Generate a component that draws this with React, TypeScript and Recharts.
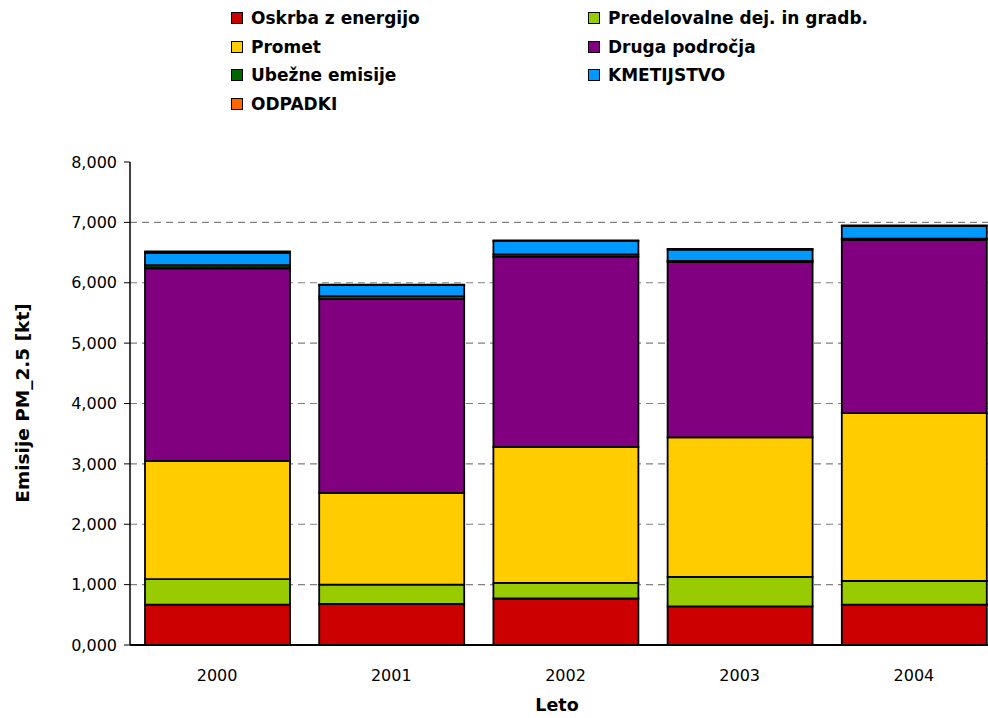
import { BarChart, Bar, XAxis, YAxis, CartesianGrid } from "recharts";

const years = ["2000", "2001", "2002", "2003", "2004"];
const oskrba = [0.67, 0.68, 0.77, 0.64, 0.67];
const predelovalne = [0.42, 0.32, 0.26, 0.49, 0.39];
const promet = [1.96, 1.52, 2.25, 2.31, 2.78];
const druga = [3.19, 3.21, 3.15, 2.9, 2.87];
const ubezne = [0.05, 0.05, 0.04, 0.02, 0.02];
const kmetijstvo = [0.2, 0.18, 0.22, 0.19, 0.21];
const odpadki = [0.03, 0.01, 0.01, 0.01, 0.01];
const yTicks = [0, 1, 2, 3, 4, 5, 6, 7, 8];
const gridValues = [1, 2, 3, 4, 5, 6, 7];
const edgeTicks = [0, 1, 2, 3, 4, 5];

const series = [
  { key: "oskrba", name: "Oskrba z energijo", color: "#CC0000", values: oskrba },
  { key: "predelovalne", name: "Predelovalne dej. in gradb.", color: "#99CC00", values: predelovalne },
  { key: "promet", name: "Promet", color: "#FFCC00", values: promet },
  { key: "druga", name: "Druga področja", color: "#800080", values: druga },
  { key: "ubezne", name: "Ubežne emisije", color: "#006600", values: ubezne },
  { key: "kmetijstvo", name: "KMETIJSTVO", color: "#0099FF", values: kmetijstvo },
  { key: "odpadki", name: "ODPADKI", color: "#FF6600", values: odpadki },
];

const data = years.map((year, i) => {
  const row: any = { year };
  series.forEach((s) => (row[s.key] = s.values[i]));
  return row;
});

const font = "'DejaVu Sans', Verdana, sans-serif";
const fmt = (v: number) => v.toFixed(3).replace(".", ",");

function LegendBox() {
  return (
    <div style={{ position: "absolute", left: 0, top: 0 }}>
      {series.map((s, i) => {
        const col = i % 2;
        const row = Math.floor(i / 2);
        return (
          <div
            key={s.key}
            style={{
              position: "absolute",
              left: col === 0 ? 231 : 588,
              top: 8 + row * 28.5,
              height: 20,
              display: "flex",
              alignItems: "center",
              whiteSpace: "nowrap",
              fontWeight: "bold",
              fontSize: 17,
            }}
          >
            <span
              style={{
                display: "inline-block",
                width: 10,
                height: 10,
                background: s.color,
                border: "1px solid #000",
                marginRight: 8,
              }}
            />
            {s.name}
          </div>
        );
      })}
    </div>
  );
}

export default function App() {
  return (
    <div
      style={{
        position: "absolute",
        left: 0,
        top: 0,
        width: 988,
        height: 718,
        overflow: "hidden",
        background: "#fff",
        fontFamily: font,
      }}
    >
      <LegendBox />
      <BarChart
        width={1010}
        height={718}
        data={data}
        margin={{ top: 162, right: 9, bottom: 43, left: 0 }}
        style={{ position: "absolute", left: 0, top: 0 }}
      >
        <CartesianGrid
          xAxisId="cat"
          vertical={false}
          horizontalValues={gridValues}
          stroke="#808080"
          strokeDasharray="7 5"
          strokeWidth={1.2}
        />
        <XAxis
          xAxisId="edge"
          type="number"
          domain={[0, 5]}
          ticks={edgeTicks}
          tickFormatter={() => ""}
          axisLine={false}
          tickLine={{ stroke: "#000", strokeWidth: 1.5 }}
          tickSize={7}
          height={0}
          allowDataOverflow
        />
        <XAxis
          xAxisId="cat"
          dataKey="year"
          tickLine={false}
          axisLine={{ stroke: "#000", strokeWidth: 2 }}
          tickSize={0}
          tickMargin={25}
          height={30}
          tick={{ fill: "#000", fontSize: 16, fontFamily: font }}
          label={{
            content: () => (
              <text
                x={557}
                y={705}
                textAnchor="middle"
                dominantBaseline="central"
                fontWeight="bold"
                fontSize={17.5}
                fontFamily={font}
                fill="#000"
              >
                Leto
              </text>
            ),
          }}
        />
        <YAxis
          width={130}
          domain={[0, 8]}
          ticks={yTicks}
          tickFormatter={fmt}
          axisLine={{ stroke: "#000", strokeWidth: 1.5 }}
          tickLine={{ stroke: "#000" }}
          tickSize={6}
          tickMargin={7}
          tick={{ fill: "#000", fontSize: 16, fontFamily: font }}
          label={{
            content: () => (
              <text
                x={22}
                y={403}
                transform="rotate(-90 22 403)"
                textAnchor="middle"
                dominantBaseline="central"
                fontWeight="bold"
                fontSize={18.5}
                fontFamily={font}
                fill="#000"
              >
                Emisije PM_2.5 [kt]
              </text>
            ),
          }}
        />
        {series.map((s) => (
          <Bar
            key={s.key}
            xAxisId="cat"
            dataKey={s.key}
            name={s.name}
            stackId="a"
            fill={s.color}
            stroke="#000"
            strokeWidth={1.8}
            barSize={145}
            isAnimationActive={false}
          />
        ))}
      </BarChart>
    </div>
  );
}
